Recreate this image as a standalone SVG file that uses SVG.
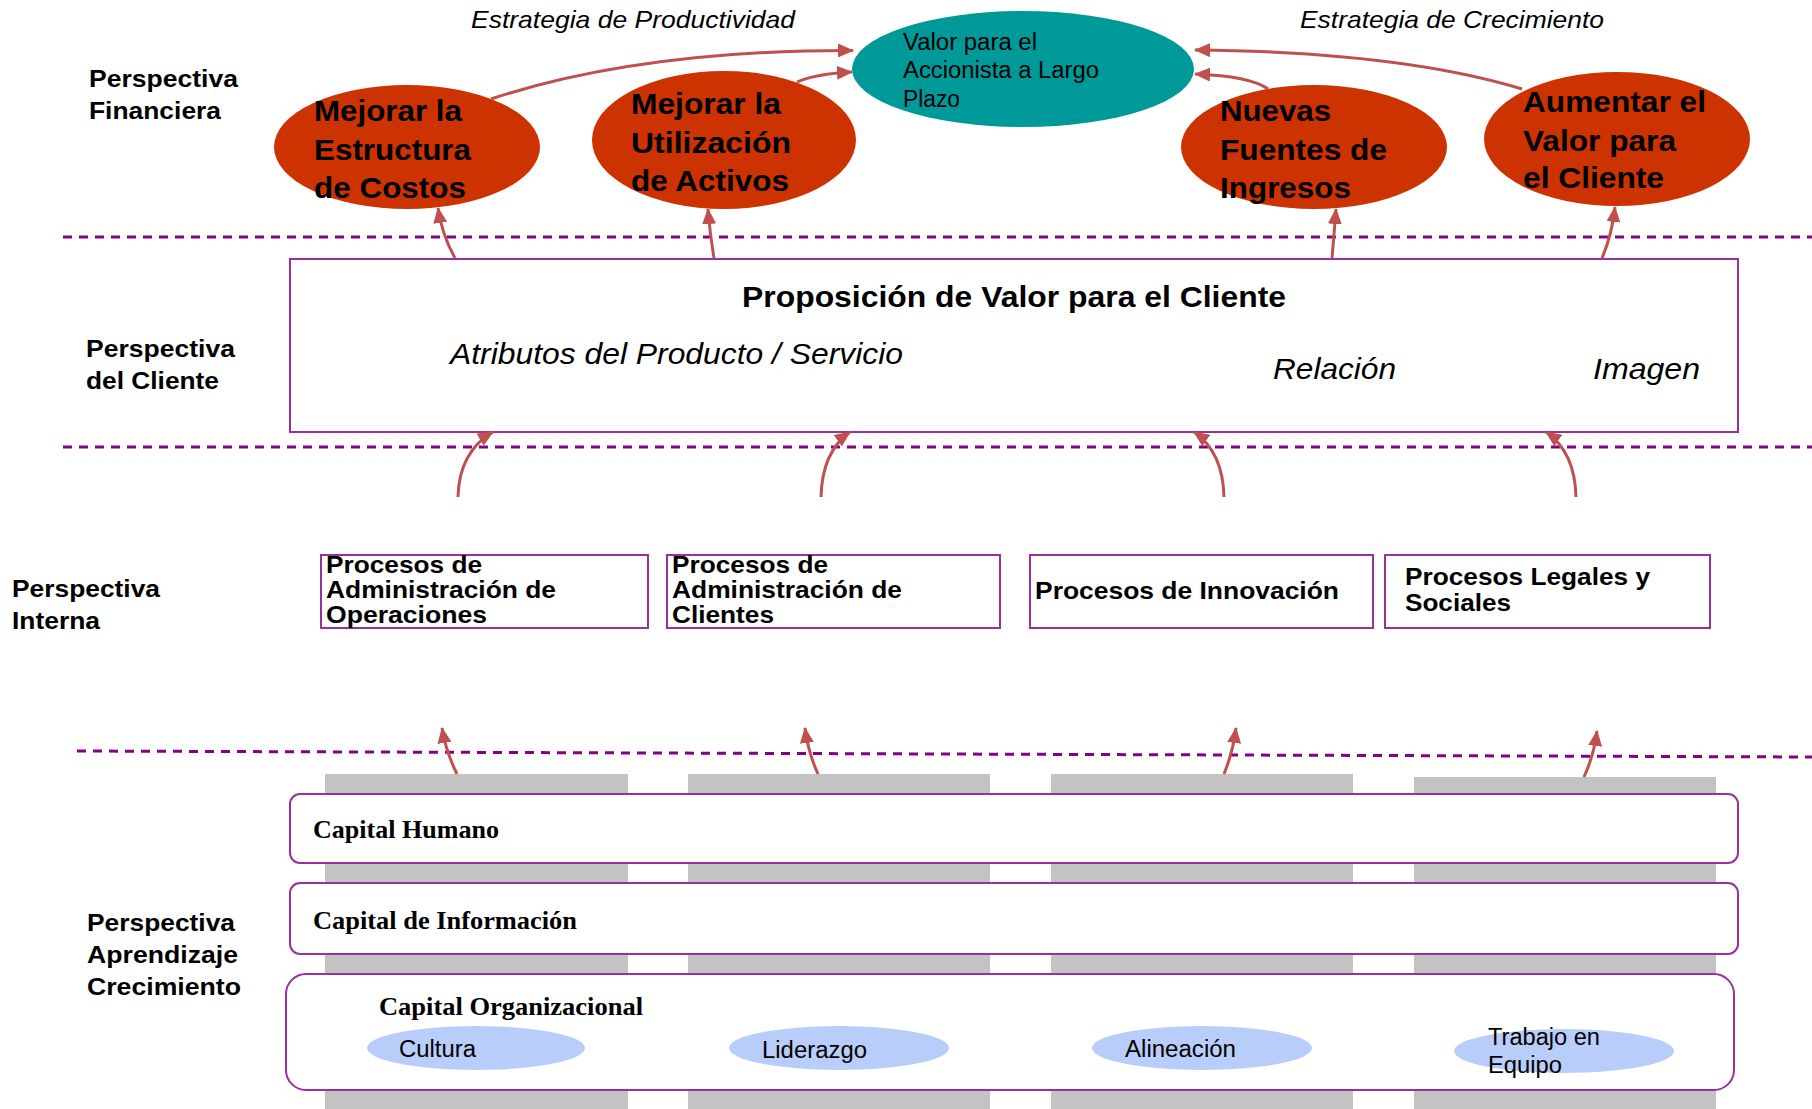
<svg xmlns="http://www.w3.org/2000/svg" width="1812" height="1109" viewBox="0 0 1812 1109">
  <style>
    .sans { font-family: "Liberation Sans", Arial, sans-serif; fill: #000; }
    .serif { font-family: "Liberation Serif", "Times New Roman", serif; font-weight: bold; fill: #000; font-size: 26px; }
    .persp { font-weight: bold; font-size: 24px; }
    .goal { font-weight: bold; font-size: 30px; }
    .strat { font-style: italic; font-size: 24px; }
    .teal-t { font-size: 23px; }
    .prop { font-weight: bold; font-size: 30px; }
    .attr { font-style: italic; font-size: 29px; }
    .proc { font-weight: bold; font-size: 24px; }
    .cult { font-size: 23px; }
    .dash { stroke: #850085; stroke-width: 3; stroke-dasharray: 9 7; fill: none; }
    .goal-e { fill: #CC3300; }
    .box { fill: #fff; stroke: #9A2F9E; stroke-width: 2; }
    .pillar { fill: #C3C3C3; }
    .soft { fill: #B8CDFA; }
    .link { fill: none; stroke: #C0504D; stroke-width: 3; marker-end: url(#head); }
  </style>
  <defs>
    <marker id="head" markerUnits="userSpaceOnUse" markerWidth="16" markerHeight="14" refX="15" refY="7" orient="auto">
      <path d="M0,0 L16,7 L0,14 Z" fill="#C0504D"/>
    </marker>
  </defs>

  <rect width="1812" height="1109" fill="#fff"/>

  <!-- perspective separators -->
  <g id="separators">
    <line class="dash" x1="63" y1="237" x2="1812" y2="237"/>
    <line class="dash" x1="63" y1="447" x2="1812" y2="447"/>
    <line class="dash" x1="77" y1="751" x2="1812" y2="757"/>
  </g>

  <!-- perspective labels -->
  <g id="labels" class="sans persp">
    <text x="89" y="87" textLength="149" lengthAdjust="spacingAndGlyphs">Perspectiva</text>
    <text x="89" y="119" textLength="132" lengthAdjust="spacingAndGlyphs">Financiera</text>
    <text x="86" y="357" textLength="149" lengthAdjust="spacingAndGlyphs">Perspectiva</text>
    <text x="86" y="389" textLength="133" lengthAdjust="spacingAndGlyphs">del Cliente</text>
    <text x="12" y="597" textLength="148" lengthAdjust="spacingAndGlyphs">Perspectiva</text>
    <text x="12" y="629" textLength="88" lengthAdjust="spacingAndGlyphs">Interna</text>
    <text x="87" y="931" textLength="148" lengthAdjust="spacingAndGlyphs">Perspectiva</text>
    <text x="87" y="963" textLength="151" lengthAdjust="spacingAndGlyphs">Aprendizaje</text>
    <text x="87" y="995" textLength="154" lengthAdjust="spacingAndGlyphs">Crecimiento</text>
  </g>

  <!-- strategy headings -->
  <g id="strategies" class="sans strat">
    <text x="471" y="28" textLength="324" lengthAdjust="spacingAndGlyphs">Estrategia de Productividad</text>
    <text x="1300" y="28" textLength="304" lengthAdjust="spacingAndGlyphs">Estrategia de Crecimiento</text>
  </g>

  <!-- learning & growth pillars (behind the capital bands) -->
  <g id="pillars">
    <rect class="pillar" x="325" y="774" width="303" height="335"/>
    <rect class="pillar" x="688" y="774" width="302" height="335"/>
    <rect class="pillar" x="1051" y="774" width="302" height="335"/>
    <rect class="pillar" x="1414" y="777" width="302" height="332"/>
  </g>

  <!-- financial perspective -->
  <g id="shareholder-value">
    <ellipse cx="1023" cy="69" rx="171" ry="58" fill="#009999"/>
    <text class="sans teal-t" x="903" y="50" textLength="134" lengthAdjust="spacingAndGlyphs">Valor para el</text>
    <text class="sans teal-t" x="903" y="78" textLength="196" lengthAdjust="spacingAndGlyphs">Accionista a Largo</text>
    <text class="sans teal-t" x="903" y="107" textLength="57" lengthAdjust="spacingAndGlyphs">Plazo</text>
  </g>
  <g id="cost-structure" class="sans goal">
    <ellipse class="goal-e" cx="407" cy="147" rx="133" ry="62"/>
    <text x="314" y="121" textLength="148" lengthAdjust="spacingAndGlyphs">Mejorar la</text>
    <text x="314" y="160" textLength="157" lengthAdjust="spacingAndGlyphs">Estructura</text>
    <text x="314" y="198" textLength="152" lengthAdjust="spacingAndGlyphs">de Costos</text>
  </g>
  <g id="asset-utilization" class="sans goal">
    <ellipse class="goal-e" cx="724" cy="140" rx="132" ry="69"/>
    <text x="631" y="114" textLength="150" lengthAdjust="spacingAndGlyphs">Mejorar la</text>
    <text x="631" y="153" textLength="160" lengthAdjust="spacingAndGlyphs">Utilización</text>
    <text x="631" y="191" textLength="158" lengthAdjust="spacingAndGlyphs">de Activos</text>
  </g>
  <g id="revenue-sources" class="sans goal">
    <ellipse class="goal-e" cx="1314" cy="147" rx="133" ry="62"/>
    <text x="1220" y="121" textLength="111" lengthAdjust="spacingAndGlyphs">Nuevas</text>
    <text x="1220" y="160" textLength="167" lengthAdjust="spacingAndGlyphs">Fuentes de</text>
    <text x="1220" y="198" textLength="131" lengthAdjust="spacingAndGlyphs">Ingresos</text>
  </g>
  <g id="customer-value" class="sans goal">
    <ellipse class="goal-e" cx="1617" cy="139" rx="133" ry="67"/>
    <text x="1523" y="112" textLength="183" lengthAdjust="spacingAndGlyphs">Aumentar el</text>
    <text x="1523" y="151" textLength="153" lengthAdjust="spacingAndGlyphs">Valor para</text>
    <text x="1523" y="188" textLength="141" lengthAdjust="spacingAndGlyphs">el Cliente</text>
  </g>

  <!-- customer perspective -->
  <g id="value-proposition">
    <rect class="box" x="290" y="259" width="1448" height="173"/>
    <text class="sans prop" x="742" y="307" textLength="544" lengthAdjust="spacingAndGlyphs">Proposición de Valor para el Cliente</text>
    <text class="sans attr" x="450" y="364" textLength="453" lengthAdjust="spacingAndGlyphs">Atributos del Producto / Servicio</text>
    <text class="sans attr" x="1273" y="379" textLength="123" lengthAdjust="spacingAndGlyphs">Relación</text>
    <text class="sans attr" x="1593" y="379" textLength="107" lengthAdjust="spacingAndGlyphs">Imagen</text>
  </g>

  <!-- internal perspective -->
  <g id="operations" class="sans proc">
    <rect class="box" x="321" y="555" width="327" height="73"/>
    <text x="326" y="573" textLength="156" lengthAdjust="spacingAndGlyphs">Procesos de</text>
    <text x="326" y="598" textLength="230" lengthAdjust="spacingAndGlyphs">Administración de</text>
    <text x="326" y="623" textLength="161" lengthAdjust="spacingAndGlyphs">Operaciones</text>
  </g>
  <g id="customers" class="sans proc">
    <rect class="box" x="667" y="555" width="333" height="73"/>
    <text x="672" y="573" textLength="156" lengthAdjust="spacingAndGlyphs">Procesos de</text>
    <text x="672" y="598" textLength="230" lengthAdjust="spacingAndGlyphs">Administración de</text>
    <text x="672" y="623" textLength="102" lengthAdjust="spacingAndGlyphs">Clientes</text>
  </g>
  <g id="innovation" class="sans proc">
    <rect class="box" x="1030" y="555" width="343" height="73"/>
    <text x="1035" y="599" textLength="304" lengthAdjust="spacingAndGlyphs">Procesos de Innovación</text>
  </g>
  <g id="legal-social" class="sans proc">
    <rect class="box" x="1385" y="555" width="325" height="73"/>
    <text x="1405" y="585" textLength="245" lengthAdjust="spacingAndGlyphs">Procesos Legales y</text>
    <text x="1405" y="611" textLength="106" lengthAdjust="spacingAndGlyphs">Sociales</text>
  </g>

  <!-- learning & growth perspective -->
  <g id="human-capital">
    <rect class="box" x="290" y="794" width="1448" height="69" rx="10"/>
    <text class="serif" x="313" y="838" textLength="186" lengthAdjust="spacingAndGlyphs">Capital Humano</text>
  </g>
  <g id="information-capital">
    <rect class="box" x="290" y="883" width="1448" height="71" rx="10"/>
    <text class="serif" x="313" y="929" textLength="264" lengthAdjust="spacingAndGlyphs">Capital de Información</text>
  </g>
  <g id="organization-capital">
    <rect class="box" x="286" y="974" width="1448" height="116" rx="20"/>
    <text class="serif" x="379" y="1015" textLength="264" lengthAdjust="spacingAndGlyphs">Capital Organizacional</text>
  </g>
  <g id="culture" class="sans cult">
    <ellipse class="soft" cx="476" cy="1048" rx="109" ry="22"/>
    <text x="399" y="1057" textLength="77" lengthAdjust="spacingAndGlyphs">Cultura</text>
  </g>
  <g id="leadership" class="sans cult">
    <ellipse class="soft" cx="839" cy="1048" rx="110" ry="22"/>
    <text x="762" y="1058" textLength="105" lengthAdjust="spacingAndGlyphs">Liderazgo</text>
  </g>
  <g id="alignment" class="sans cult">
    <ellipse class="soft" cx="1202" cy="1048" rx="110" ry="22"/>
    <text x="1125" y="1057" textLength="111" lengthAdjust="spacingAndGlyphs">Alineación</text>
  </g>
  <g id="teamwork" class="sans cult">
    <ellipse class="soft" cx="1564" cy="1051" rx="110" ry="22"/>
    <text x="1488" y="1045" textLength="112" lengthAdjust="spacingAndGlyphs">Trabajo en</text>
    <text x="1488" y="1073" textLength="74" lengthAdjust="spacingAndGlyphs">Equipo</text>
  </g>

  <!-- cause-effect links -->
  <g id="connectors">
    <path class="link" d="M491 99 Q640 50 853 50.5"/>
    <path class="link" d="M797 82 Q815 74 852 72"/>
    <path class="link" d="M1522 89 Q1400 52 1195 50"/>
    <path class="link" d="M1268 89 Q1250 76 1195 74"/>

    <path class="link" d="M455 258 Q442 235 438 208"/>
    <path class="link" d="M714 258 Q710 235 708 209"/>
    <path class="link" d="M1332 258 Q1334 235 1336 209"/>
    <path class="link" d="M1602 258 Q1612 235 1615 207"/>

    <path class="link" d="M458 497 Q459 452 493 432"/>
    <path class="link" d="M821 497 Q822 452 850 432"/>
    <path class="link" d="M1224 497 Q1223 452 1194 432"/>
    <path class="link" d="M1576 497 Q1575 452 1546 432"/>

    <path class="link" d="M457 774 Q446 752 442 728"/>
    <path class="link" d="M818 774 Q808 752 805 728"/>
    <path class="link" d="M1224 774 Q1233 752 1236 728"/>
    <path class="link" d="M1584 777 Q1594 755 1597 731"/>
  </g>
</svg>
